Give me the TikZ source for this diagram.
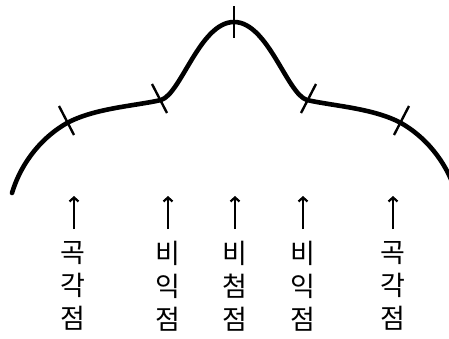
\documentclass[tikz,border=0pt]{standalone}
\usepackage{fontspec}
\newfontfamily\krfont{Noto Sans CJK KR}
\usetikzlibrary{arrows.meta}
\tikzset{
  curveline/.style={line width=4.6pt, line cap=round},
  tickline/.style={line width=2.4pt},
  uparrow/.style={line width=2.2pt, -{Straight Barb[length=4pt,width=9pt,line width=2.2pt]}},
  label/.style={font=\krfont\fontsize{27}{33}\selectfont, align=center, inner sep=0pt, anchor=north}
}
\begin{document}
\begin{tikzpicture}[x=1pt,y=-1pt]
\useasboundingbox (0,0) rectangle (449,338);
% curve
\coordinate (s) at (12,193);
\coordinate (p1) at (67,123);
\coordinate (p2) at (161,100);
\coordinate (top) at (234,22);
\coordinate (p3) at (307,100);
\coordinate (p4) at (401,123);
\coordinate (e) at (456,193);
\draw[curveline] (s) .. controls (22,160) and (44,136) .. (p1)
  .. controls (95,108) and (135,106) .. (p2)
  .. controls (181,94) and (200,22) .. (top)
  .. controls (268,22) and (287,94) .. (p3)
  .. controls (333,106) and (373,108) .. (p4)
  .. controls (424,136) and (446,160) .. (e);
% ticks
\draw[tickline] (234,6) -- (234,38);
\draw[tickline] (59,106) -- (74,135);
\draw[tickline] (152,84) -- (167,113);
\draw[tickline] (316,84) -- (301,113);
\draw[tickline] (409,106) -- (394,135);
% labels
\node[label] (l1) at (73,241) {곡\\각\\점};
\node[label] (l2) at (168,241) {비\\익\\점};
\node[label] (l3) at (235,241) {비\\첨\\점};
\node[label] (l4) at (303,241) {비\\익\\점};
\node[label] (l5) at (393,241) {곡\\각\\점};
% arrows
\foreach \i/\x in {1/74,2/168,3/235,4/303,5/393}{
  \coordinate (a\i) at (\x,196);
  \draw[uparrow] (\x,229) -- (a\i);
}
\end{tikzpicture}
\end{document}
